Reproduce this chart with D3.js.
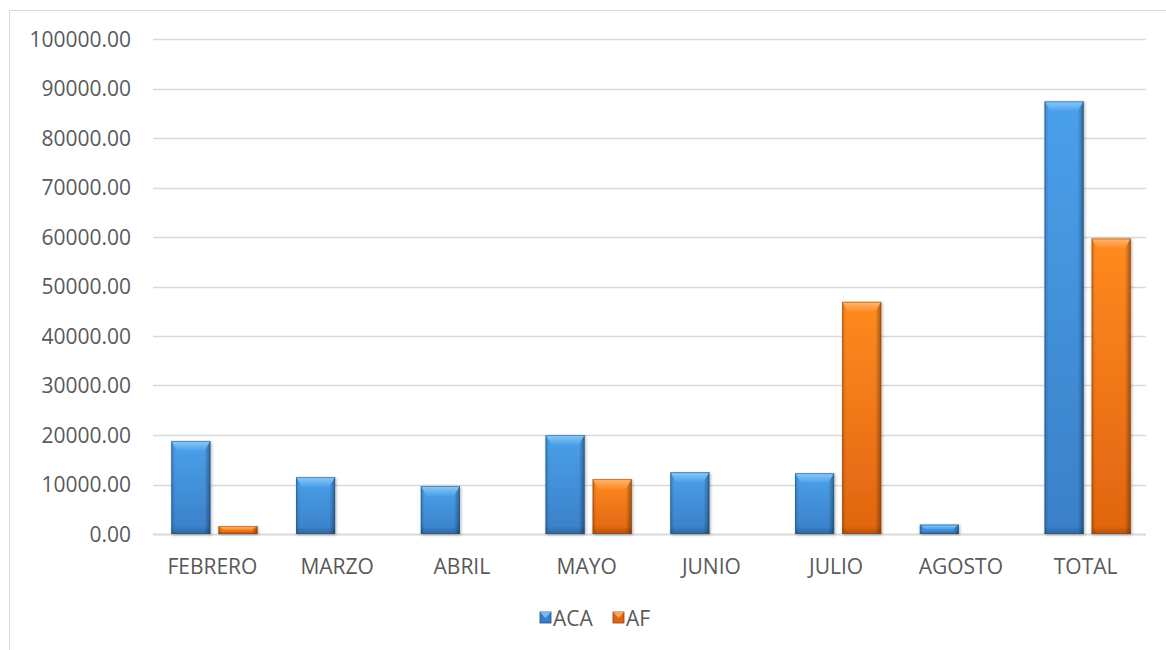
<!DOCTYPE html>
<html>
<head>
<meta charset="utf-8">
<script src="https://cdn.jsdelivr.net/npm/d3@7"></script>
<style>
  body { margin: 0; background: #fff; }
  svg { display: block; }
  text { font-family: "Open Sans", "Liberation Sans", sans-serif; fill: #595959; }
</style>
</head>
<body>
<svg id="chart" width="1166" height="650"></svg>
<script>
const categories = ['FEBRERO', 'MARZO', 'ABRIL', 'MAYO', 'JUNIO', 'JULIO', 'AGOSTO', 'TOTAL'];
const seriesNames = ['ACA', 'AF'];
const acaValues = [18800, 11500, 9700, 20000, 12500, 12300, 1900, 87400];
const afValues = [1600, 0, 0, 11100, 0, 46900, 0, 59700];
const yTicks = [0, 10000, 20000, 30000, 40000, 50000, 60000, 70000, 80000, 90000, 100000];

const svg = d3.select('#chart');
const margin = { left: 152, right: 16, top: 39, bottom: 116 };
const width = 1166, height = 650;

// frame
svg.append('rect')
  .attr('x', 9.5).attr('y', 10.5)
  .attr('width', 1170).attr('height', 660)
  .attr('fill', 'none').attr('stroke', '#d9d9d9');

const x = d3.scaleBand()
  .domain(categories)
  .range([margin.left, width - margin.right]);

const x1 = d3.scaleBand()
  .domain(seriesNames)
  .range([0, x.bandwidth()])
  .paddingInner(0.17)
  .paddingOuter(0.41);

const y = d3.scaleLinear()
  .domain([0, 100000])
  .range([height - margin.bottom, margin.top]);

// gridlines
svg.append('g')
  .selectAll('line')
  .data(yTicks)
  .join('line')
  .attr('x1', 153).attr('x2', 1146)
  .attr('y1', d => Math.round(y(d)) + 0.5)
  .attr('y2', d => Math.round(y(d)) + 0.5)
  .attr('stroke', '#d9d9d9')
  .attr('stroke-width', d => d === 0 ? 2 : 1.5);

// y axis labels
svg.append('g')
  .selectAll('text')
  .data(yTicks)
  .join('text')
  .attr('x', 131)
  .attr('y', d => y(d))
  .attr('dy', '0.36em')
  .attr('text-anchor', 'end')
  .attr('font-size', 21)
  .text(d => d3.format('.2f')(d));

// x axis labels
svg.append('g')
  .selectAll('text')
  .data(categories)
  .join('text')
  .attr('x', d => x(d) + x.bandwidth() / 2 - 2)
  .attr('y', 566)
  .attr('dy', '0.36em')
  .attr('text-anchor', 'middle')
  .attr('font-size', 21)
  .text(d => d);

// gradients
const defs = svg.append('defs');
const palette = {
  ACA: { top: '#4aa0ea', bottom: '#3a80c8', light: '#8ccaf7', edge: '#1f4f80' },
  AF: { top: '#ff8a20', bottom: '#e0650f', light: '#ffb878', edge: '#8f420a' }
};
seriesNames.forEach(s => {
  const c = palette[s];
  const g = defs.append('linearGradient').attr('id', 'body-' + s)
    .attr('x1', 0).attr('x2', 0).attr('y1', 0).attr('y2', 1);
  g.append('stop').attr('offset', '0%').attr('stop-color', c.top);
  g.append('stop').attr('offset', '100%').attr('stop-color', c.bottom);
  const h = defs.append('linearGradient').attr('id', 'side-' + s)
    .attr('x1', 0).attr('x2', 1).attr('y1', 0).attr('y2', 0);
  h.append('stop').attr('offset', '0%').attr('stop-color', '#000').attr('stop-opacity', 0.18);
  h.append('stop').attr('offset', '10%').attr('stop-color', '#000').attr('stop-opacity', 0);
  h.append('stop').attr('offset', '85%').attr('stop-color', '#000').attr('stop-opacity', 0);
  h.append('stop').attr('offset', '100%').attr('stop-color', '#000').attr('stop-opacity', 0.35);
  const t = defs.append('linearGradient').attr('id', 'top-' + s)
    .attr('x1', 0).attr('x2', 0).attr('y1', 0).attr('y2', 1);
  t.append('stop').attr('offset', '0%').attr('stop-color', c.light);
  t.append('stop').attr('offset', '100%').attr('stop-color', c.top);
  const b = defs.append('linearGradient').attr('id', 'base-' + s)
    .attr('x1', 0).attr('x2', 0).attr('y1', 0).attr('y2', 1);
  b.append('stop').attr('offset', '0%').attr('stop-color', '#000').attr('stop-opacity', 0);
  b.append('stop').attr('offset', '100%').attr('stop-color', '#000').attr('stop-opacity', 0.2);
});
const shadow = defs.append('filter').attr('id', 'shadow')
  .attr('x', '-20%').attr('y', '-20%').attr('width', '140%').attr('height', '140%');
shadow.append('feDropShadow').attr('dx', 1).attr('dy', 1).attr('stdDeviation', 1.5)
  .attr('flood-color', '#000').attr('flood-opacity', 0.3);

const barData = [];
categories.forEach((cat, i) => {
  barData.push({ cat, s: 'ACA', v: acaValues[i] });
  barData.push({ cat, s: 'AF', v: afValues[i] });
});

const bars = svg.append('g')
  .selectAll('g')
  .data(barData.filter(d => d.v > 0))
  .join('g')
  .attr('filter', 'url(#shadow)');

bars.each(function (d) {
  const g = d3.select(this);
  const bx = x(d.cat) + x1(d.s);
  const bw = x1.bandwidth();
  const by = y(d.v);
  const bh = y(0) - by;
  const c = palette[d.s];
  const bev = Math.min(10, bh / 2);
  const side = Math.min(6, bw / 6);
  g.append('rect')
    .attr('x', bx).attr('y', by).attr('width', bw).attr('height', bh)
    .attr('fill', `url(#body-${d.s})`);
  g.append('rect')
    .attr('x', bx).attr('y', by).attr('width', bw).attr('height', bh)
    .attr('fill', `url(#side-${d.s})`);
  const baseH = Math.min(8, bh / 3);
  g.append('rect')
    .attr('x', bx).attr('y', by + bh - baseH).attr('width', bw).attr('height', baseH)
    .attr('fill', `url(#base-${d.s})`);
  g.append('path')
    .attr('d', `M${bx},${by}H${bx + bw}L${bx + bw - side},${by + bev}H${bx + side}Z`)
    .attr('fill', `url(#top-${d.s})`);
  g.append('rect')
    .attr('x', bx + 0.5).attr('y', by + 0.5).attr('width', bw - 1).attr('height', bh - 1)
    .attr('fill', 'none').attr('stroke', c.edge).attr('stroke-opacity', 0.5);
});

// legend
const legend = svg.append('g').attr('transform', 'translate(540,618)');
const items = [{ s: 'ACA', x: 0, label: 'ACA' }, { s: 'AF', x: 73, label: 'AF' }];
items.forEach(it => {
  const c = palette[it.s];
  legend.append('rect')
    .attr('x', it.x).attr('y', -6).attr('width', 11).attr('height', 11)
    .attr('fill', c.bottom).attr('stroke', c.edge).attr('stroke-width', 0.8);
  legend.append('path')
    .attr('d', `M${it.x},-6H${it.x + 11}L${it.x + 5.5},0Z`)
    .attr('fill', c.light).attr('opacity', 0.8);
  legend.append('text')
    .attr('x', it.x + 13).attr('y', 0).attr('dy', '0.36em')
    .attr('font-size', 21)
    .text(it.label);
});
</script>
</body>
</html>
